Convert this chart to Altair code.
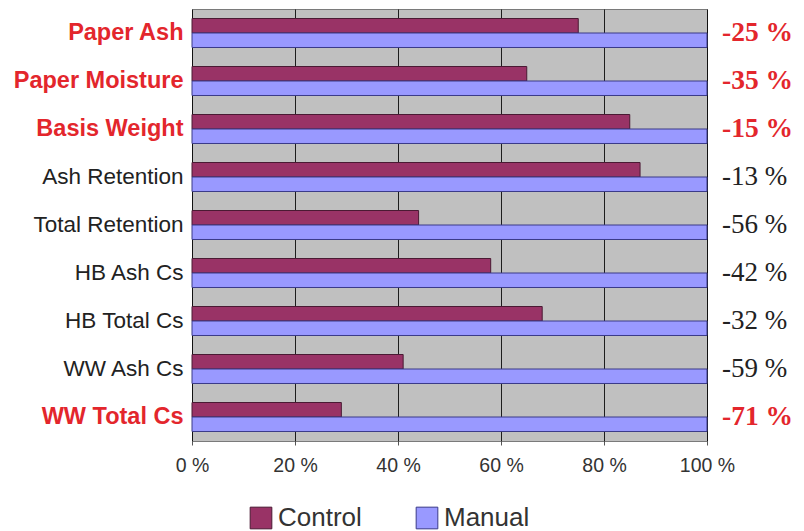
import altair as alt
import pandas as pd

# Parameters, top to bottom
categories = [
    "Paper Ash", "Paper Moisture", "Basis Weight", "Ash Retention",
    "Total Retention", "HB Ash Cs", "HB Total Cs", "WW Ash Cs", "WW Total Cs",
]
# Change of the Control variability relative to Manual (Manual = 100 %)
change_pct = [-25, -35, -15, -13, -56, -42, -32, -59, -71]
manual_pct = [100, 100, 100, 100, 100, 100, 100, 100, 100]
highlighted = ["Paper Ash", "Paper Moisture", "Basis Weight", "WW Total Cs"]

series = ["Control", "Manual"]
x_ticks = [0, 20, 40, 60, 80, 100]

control_pct = [100 + c for c in change_pct]

rows = []
for cat, c, m in zip(categories, control_pct, manual_pct):
    rows.append({"param": cat, "series": "Control", "value": c})
    rows.append({"param": cat, "series": "Manual", "value": m})
bars_df = pd.DataFrame(rows)

labels_df = pd.DataFrame({
    "param": categories,
    "change": change_pct,
    "label": [f"{c} %" for c in change_pct],
    "hl": [cat in highlighted for cat in categories],
})

RED = "#E3262C"
INK = "#222222"
W, H = 515, 432

hl_test = "indexof(" + str(highlighted).replace('"', "'") + ", datum.value) >= 0"

y_enc = alt.Y(
    "param:N",
    sort=categories,
    scale=alt.Scale(paddingInner=0.396, paddingOuter=0.198),
    axis=alt.Axis(
        title=None,
        ticks=False,
        domain=False,
        labelPadding=9,
        labelFont="Liberation Sans",
        labelFontSize={"condition": {"test": hl_test, "value": 23.5}, "value": 22.5},
        labelColor={"condition": {"test": hl_test, "value": RED}, "value": INK},
        labelFontWeight={"condition": {"test": hl_test, "value": "bold"}, "value": "normal"},
        labelLimit=300,
    ),
)

bars = alt.Chart(bars_df).mark_bar(strokeWidth=1).encode(
    x=alt.X(
        "value:Q",
        scale=alt.Scale(domain=[0, 100], nice=False),
        axis=alt.Axis(
            title=None,
            values=x_ticks,
            labelExpr="datum.value + ' %'",
            labelFlush=False,
            labelOverlap=False,
            grid=True,
            gridColor="#000000",
            gridWidth=1,
            gridOpacity=0.85,
            domain=False,
            ticks=True,
            tickSize=4,
            tickColor="#555555",
            labelPadding=11,
            labelFont="Liberation Sans",
            labelFontSize=19.5,
            labelColor="#333333",
        ),
    ),
    y=y_enc,
    yOffset=alt.YOffset("series:N", sort=series, scale=alt.Scale(paddingInner=0, paddingOuter=0)),
    color=alt.Color(
        "series:N",
        sort=series,
        scale=alt.Scale(domain=series, range=["#993366", "#9999FF"]),
        legend=alt.Legend(
            title=None,
            orient="none",
            direction="horizontal",
            legendX=56,
            legendY=496,
            symbolType="square",
            symbolSize=470,
            symbolStrokeColor="#333333",
            symbolStrokeWidth=1,
            symbolOpacity=1,
            labelFont="Liberation Sans",
            labelFontSize=26,
            labelColor="#333333",
            labelOffset=4,
            columnPadding=52,
            padding=0,
        ),
    ),
    stroke=alt.Stroke(
        "series:N",
        sort=series,
        scale=alt.Scale(domain=series, range=["#4a1a33", "#3a3a88"]),
        legend=None,
    ),
)

right_common = dict(
    x=alt.value(W + 15),
    y=alt.Y("param:N", sort=categories),
    text="label:N",
)

right_hl = alt.Chart(labels_df).transform_filter("datum.hl").mark_text(
    align="left", baseline="middle", font="Liberation Serif",
    fontSize=27.5, fontWeight="bold", color=RED,
).encode(**right_common)

right_plain = alt.Chart(labels_df).transform_filter("!datum.hl").mark_text(
    align="left", baseline="middle", font="Liberation Serif",
    fontSize=27, fontWeight="normal", color=INK,
).encode(**right_common)

chart = (
    alt.layer(bars, right_hl, right_plain)
    .properties(
        width=W,
        height=H,
        autosize=alt.AutoSizeParams(type="none"),
        padding={"left": 192, "top": 9, "right": 804 - 192 - W, "bottom": 531 - 9 - H},
        background="#ffffff",
    )
    .configure_view(fill="#C0C0C0", stroke="#7a7a7a", strokeWidth=1)
)

chart.save("out.html", embed_options={"renderer": "svg", "actions": False})
